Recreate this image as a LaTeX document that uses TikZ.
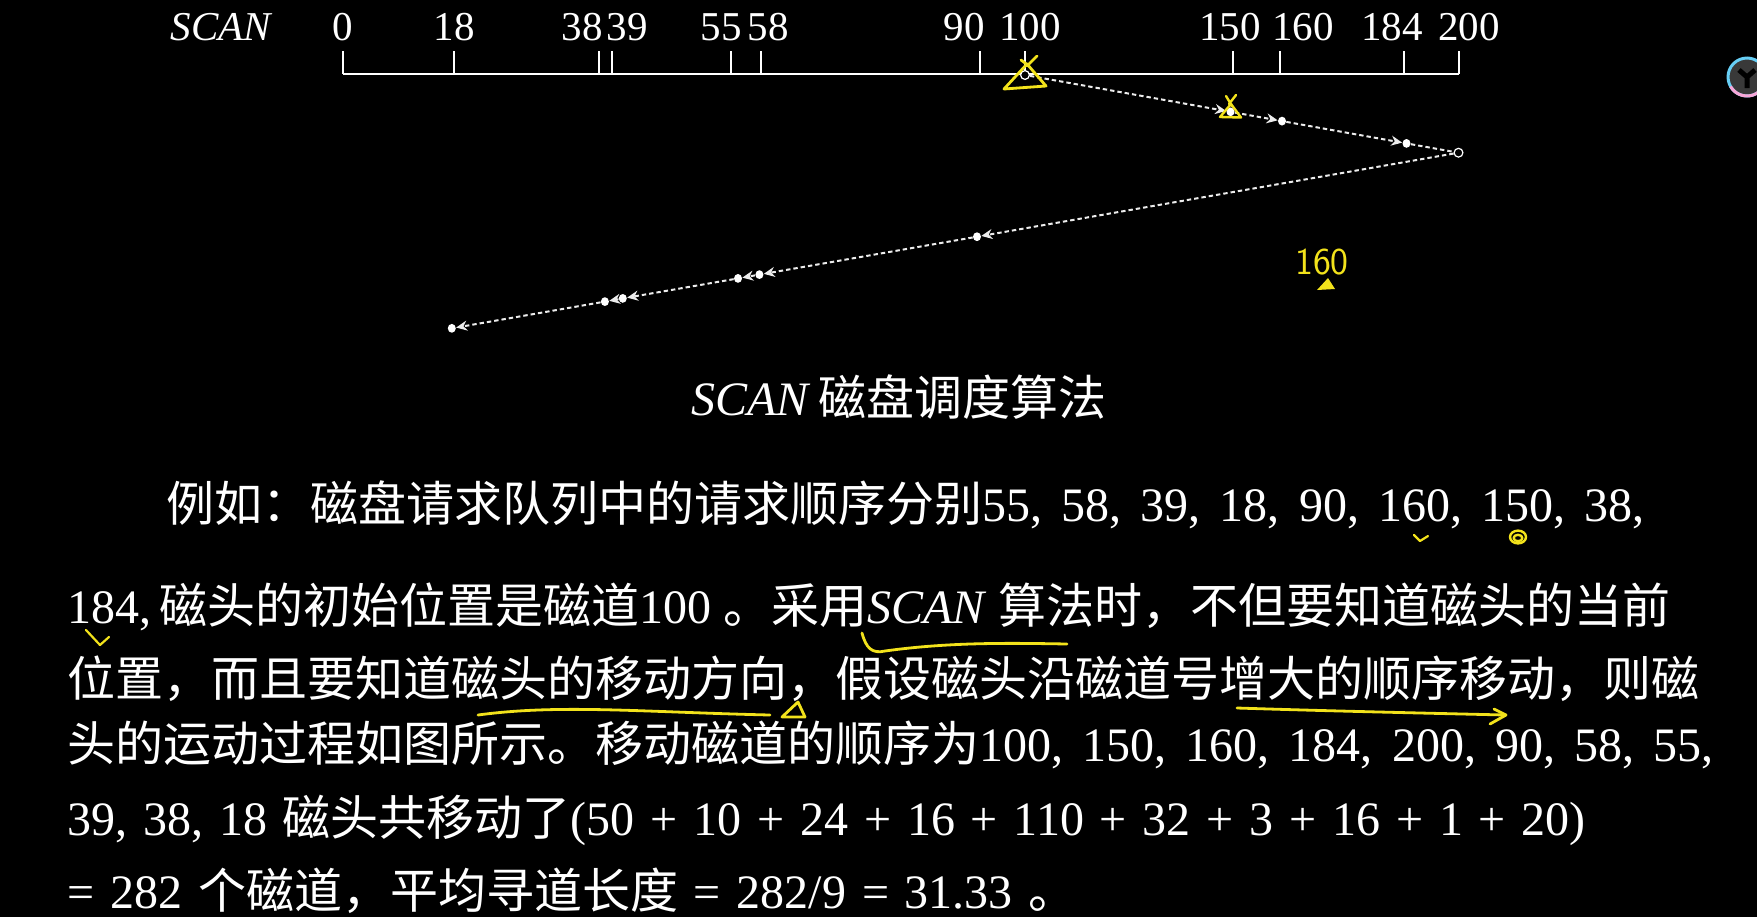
\documentclass[tikz,border=0pt]{standalone}
\usepackage{fontspec}
\setmainfont{Liberation Serif}
\newfontfamily\zhfont{Noto Sans CJK SC}
\newcommand\zh[1]{{\zhfont #1}}
\newcommand\widegap{\spaceskip=.4em\relax}
\newcommand\narrowgap{\spaceskip=.33em\relax}
\usetikzlibrary{arrows.meta, shapes.geometric}
\definecolor{scribble}{HTML}{F2E21B}

\begin{document}
\begin{tikzpicture}[
  x=0.5pt, y=-0.5pt,
  every node/.style={inner sep=0pt, text=white},
  axislabel/.style={font=\fontsize{20.5}{24}\selectfont, anchor=base},
  txt/.style={font=\fontsize{24}{28}\selectfont, anchor=base west},
  reqdot/.style={ellipse, fill=white, minimum width=4pt, minimum height=4.4pt},
  opendot/.style={circle, draw=white, fill=black, line width=0.6pt, minimum size=4.4pt},
  seek/.style={draw=gray!15, line width=1pt, dash pattern=on 2.2pt off 1.5pt},
  seekarrow/.style={seek, -{Stealth[length=5.5pt,width=5pt]}},
  ink/.style={draw=scribble, line width=1.4pt, line cap=round, line join=round}
]
\fill[black] (0,0) rectangle (1757,917);
\useasboundingbox (0,0) rectangle (1757,917);

% Track axis
\draw[white, line width=1pt] (343,74) -- (1458.5,74);
\node[axislabel] (scanlbl) at (222,40) {\textit{SCAN}};
\foreach \t/\x/\lx in {0/343/343, 18/454/454, 38/599/582, 39/612/627, 55/731/721,
    58/761/768, 90/980/964, 100/1025/1030, 150/1233/1230, 160/1280/1303,
    184/1404/1392, 200/1458.5/1469} {
  \coordinate (t\t) at (\x,74);
  \draw[white, line width=1pt] (\x,51) -- (t\t);
  \node[axislabel] (l\t) at (\lx,40) {\t};
}

% Head movement
\node[opendot] (q100) at (1025,75) {};
\node[reqdot] (q150) at (1230.5,111.8) {};
\node[reqdot] (q160) at (1282,121.1) {};
\node[reqdot] (q184) at (1406.5,143.4) {};
\node[opendot] (q200) at (1458.5,152.7) {};
\node[reqdot] (q90) at (977,236.7) {};
\node[reqdot] (q58) at (759.4,274.6) {};
\node[reqdot] (q55) at (738,278.4) {};
\node[reqdot] (q39) at (622.8,298.4) {};
\node[reqdot] (q38) at (604.9,301.6) {};
\node[reqdot] (q18) at (451.8,328.3) {};

\foreach \a/\b in {100/150, 150/160, 160/184, 200/90, 90/58, 58/55, 55/39, 39/38, 38/18}
  \draw[seekarrow] (q\a) -- (q\b);
\draw[seek] (q184) -- (q200);

% Caption and text
\node[txt] (caption) at (691,415) {\textit{SCAN}\,\zh{磁盘调度算法}};
\node[txt] (line1) at (166,521) {\widegap\zh{例如：磁盘请求队列中的请求顺序分别}55, 58, 39, 18, 90, 160, 150, 38,};
\node[txt] (line2) at (67,623) {184,\,\zh{磁头的初始位置是磁道}100 \zh{。采用}\textit{SCAN} \zh{算法时，不但要知道磁头的当前}};
\node[txt] (line3) at (67,696) {\zh{位置，而且要知道磁头的移动方向，假设磁头沿磁道号增大的顺序移动，则磁}};
\node[txt] (line4) at (67,761) {\widegap\zh{头的运动过程如图所示。移动磁道的顺序为}100, 150, 160, 184, 200, 90, 58, 55,};
\node[txt] (line5) at (67,835) {\narrowgap 39, 38, 18 \zh{磁头共移动了}(50 + 10 + 24 + 16 + 110 + 32 + 3 + 16 + 1 + 20)};
\node[txt] (line6) at (67,908) {\narrowgap = 282 \zh{个磁道，平均寻道长度} = 282/9 = 31.33 \zh{。}};

% Hand-drawn marks
\draw[ink] (1004,89) -- (1046,86) -- (1027,64) -- cycle;
\draw[ink] (1021,60) -- (1029,66) (1027,66) -- (1037,56);
\draw[ink, line width=1.2pt] (1220,117) -- (1241,117.5) -- (1231,104) -- cycle;
\draw[ink, line width=1.2pt] (1226,96) -- (1232,106) (1236,95) -- (1229,104);
\node[text=scribble, font=\sffamily\fontsize{19}{19}\selectfont] (hand) at (1322,262) {160};
\fill[scribble] (1317,290) -- (1335,289) -- (1328,278) -- cycle;

\draw[ink, line width=1.1pt] (1414,535) -- (1420,541) -- (1428,536);
\draw[ink, line width=1.2pt] (1518,537) ellipse [x radius=4pt, y radius=3.2pt];
\draw[ink, line width=1.2pt] (1518,538) ellipse [x radius=2.2pt, y radius=1.6pt];
\draw[ink, line width=1.1pt] (86,630) -- (100,645) -- (109,637);
\draw[ink] (862,633) .. controls (866,648) and (872,654) .. (885,651)
  .. controls (950,642) and (1010,643) .. (1067,644);
\draw[ink] (478,715) .. controls (560,704) and (640,712) .. (770,715);
\draw[ink] (782,717) -- (805,717) -- (798,702) -- cycle;
\draw[ink] (1237,708) .. controls (1330,711) and (1420,713) .. (1505,715);
\draw[ink] (1494,709) -- (1506,715) -- (1490,724);

% Logo
\node[circle, minimum size=19pt, fill=gray!45!black, draw=cyan!60!white, line width=1.5pt] (logo) at (1747,77) {};
\draw[magenta!35!white, line width=1.5pt] ([shift={(210:9.5pt)}]logo.center) arc[start angle=210, end angle=330, radius=9.5pt];
\draw[black, line width=2.5pt] (logo.center) -- ++(-8,-7) (logo.center) -- ++(8,-7) (logo.center) -- ++(0,11);
\end{tikzpicture}
\end{document}
